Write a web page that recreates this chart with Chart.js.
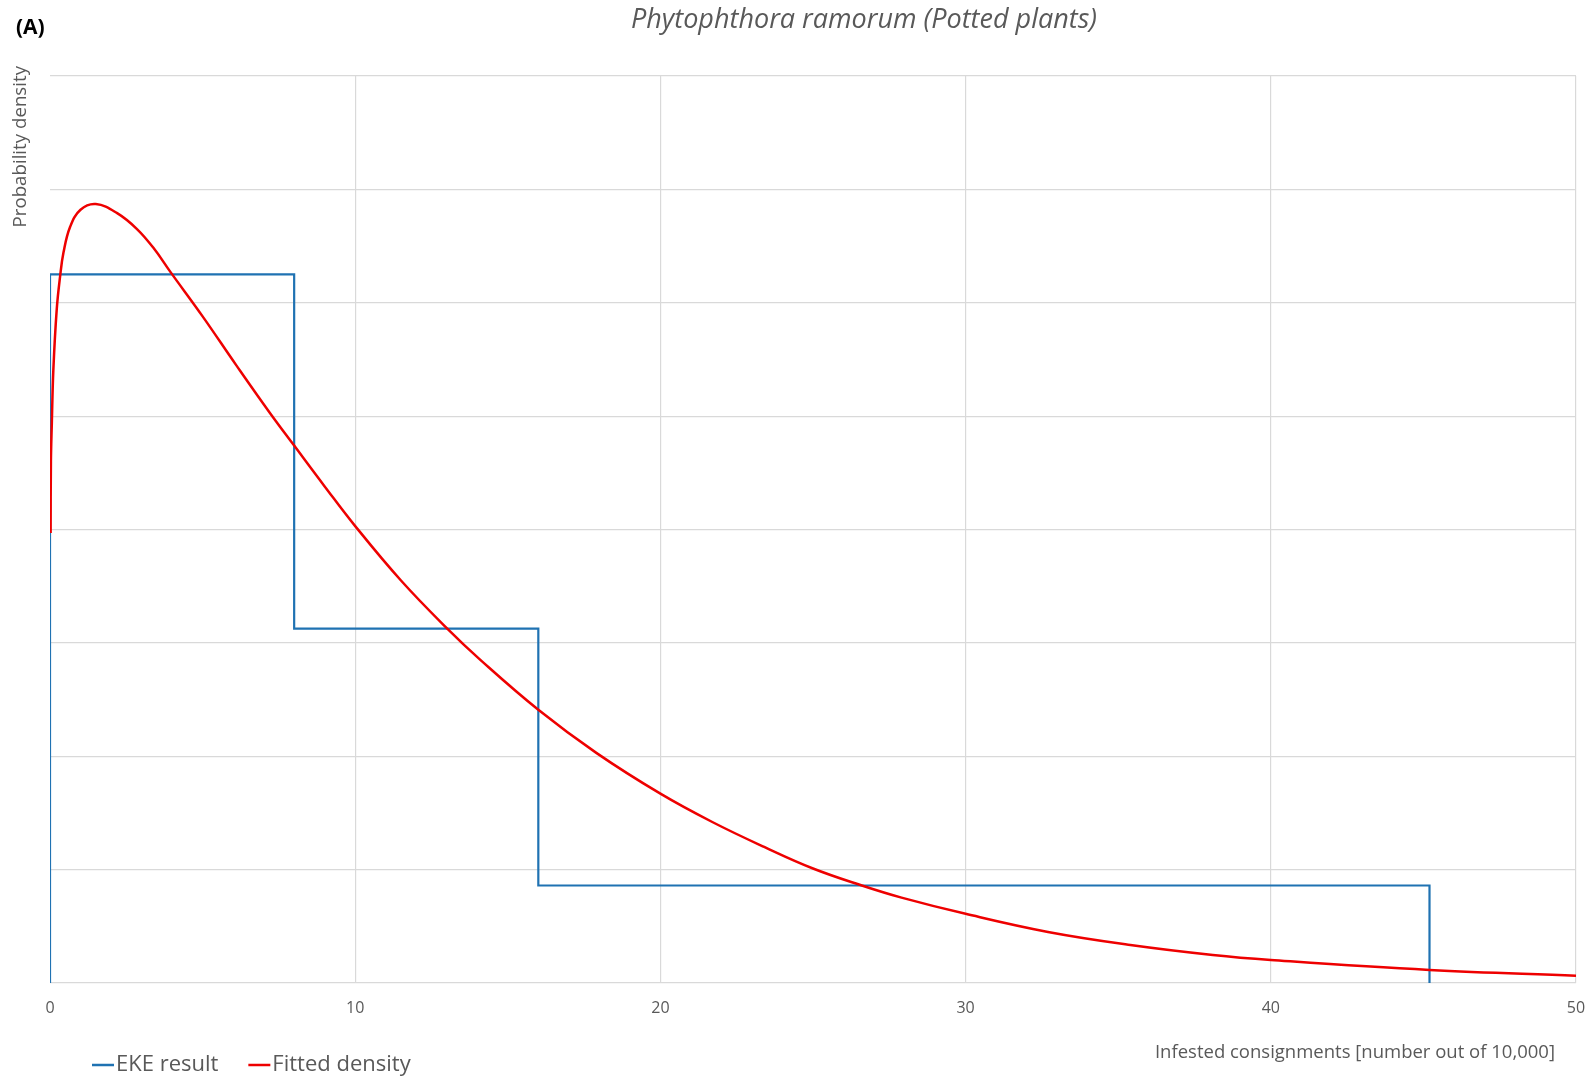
<!DOCTYPE html>
<html>
<head>
<meta charset="utf-8">
<title>Phytophthora ramorum (Potted plants)</title>
<script src="https://cdn.jsdelivr.net/npm/chart.js@4.4.1/dist/chart.umd.min.js"></script>
<style>
  html, body { margin: 0; padding: 0; background: #fff; overflow: hidden; }
  canvas { display: block; }
</style>
</head>
<body>
<canvas id="densityChart" width="1594" height="1080"></canvas>
<script>
// EKE result: bin edges and the density held inside each bin
const binEdges = [0, 8, 16, 45.2];
const binDensity = [0.0625, 0.03125, 0.0086];

// fitted density, sampled along the curve
const fitX = [0.02, 0.03, 0.06, 0.11, 0.22, 0.33, 0.44, 0.66, 1.0, 1.5, 2.2, 2.85, 3.4, 3.95, 5.0, 6.1, 7.2,
  8.0, 9.0, 10, 11.5, 13, 14.1, 16, 17.9, 20, 21.7, 23.4, 25, 26.6, 27.9, 30, 32.7, 35.4, 38.1, 40, 45.2, 50];
const fitY = [0.0397, 0.046, 0.0494, 0.0541, 0.0594, 0.0623, 0.0644, 0.0667, 0.0682, 0.0687, 0.0679, 0.0665,
  0.0648, 0.0627, 0.0588, 0.0545, 0.0503, 0.0474, 0.0438, 0.0403, 0.0355, 0.0313, 0.0285, 0.0241, 0.0203,
  0.0167, 0.0142, 0.012, 0.0101, 0.0086, 0.00753, 0.0061, 0.0045, 0.00335, 0.00247, 0.00203, 0.00115, 0.00065];

const xTicks = [0, 10, 20, 30, 40, 50];
const yMax = 0.08;
const yStep = 0.01;

const titleText = 'Phytophthora ramorum (Potted plants)';
const xTitle = 'Infested consignments [number out of 10,000]';
const yTitle = 'Probability density';

const gray = '#595959';
const gridColor = '#d9d9d9';

// step outline of the EKE bins
const ekePoints = [{ x: binEdges[0], y: 0 }];
binDensity.forEach((d, i) => ekePoints.push({ x: binEdges[i], y: d }));
ekePoints.push({ x: binEdges[binEdges.length - 1], y: 0 });

const fitPoints = fitX.map((x, i) => ({ x, y: fitY[i] }));

Chart.defaults.font.family = '"Open Sans", sans-serif';
Chart.defaults.color = gray;

// panel label, title, axis titles and legend
const panelText = {
  id: 'panelText',
  afterDraw(chart) {
    const { ctx, chartArea: a } = chart;
    ctx.save();
    ctx.textBaseline = 'middle';

    ctx.fillStyle = '#000';
    ctx.font = 'bold 21px "Open Sans"';
    ctx.textAlign = 'left';
    ctx.fillText('(A)', 16, 28);

    ctx.fillStyle = gray;
    ctx.font = 'italic 27px "Open Sans"';
    ctx.textAlign = 'center';
    ctx.fillText(titleText, 864, 20);

    ctx.font = '18.5px "Open Sans"';
    ctx.textAlign = 'right';
    ctx.fillText(xTitle, a.right - 21, 1053);

    ctx.save();
    ctx.font = '18.7px "Open Sans"';
    ctx.translate(21, 66);
    ctx.rotate(-Math.PI / 2);
    ctx.textAlign = 'right';
    ctx.fillText(yTitle, 0, 0);
    ctx.restore();

    // legend
    ctx.font = '22px "Open Sans"';
    ctx.textAlign = 'left';
    let x = 92;
    const y = 1065;
    chart.data.datasets.forEach(ds => {
      ctx.strokeStyle = ds.borderColor;
      ctx.lineWidth = 2.5;
      ctx.beginPath();
      ctx.moveTo(x, y);
      ctx.lineTo(x + 22, y);
      ctx.stroke();
      ctx.fillStyle = gray;
      ctx.fillText(ds.label, x + 24, y);
      x += 24 + ctx.measureText(ds.label).width + 30;
    });
    ctx.restore();
  }
};

new Chart(document.getElementById('densityChart'), {
  type: 'line',
  data: {
    datasets: [{
      label: 'EKE result',
      data: ekePoints,
      borderColor: '#1f72b2',
      borderWidth: 2.2,
      stepped: 'before',
      borderJoinStyle: 'miter',
      pointRadius: 0,
      order: 1
    }, {
      label: 'Fitted density',
      data: fitPoints,
      borderColor: '#ee0000',
      borderWidth: 2.5,
      tension: 0.4,
      pointRadius: 0,
      order: 0
    }]
  },
  options: {
    responsive: false,
    devicePixelRatio: 1,
    animation: false,
    events: [],
    layout: { padding: { top: 76, left: 50, right: 18, bottom: 0 } },
    plugins: {
      legend: { display: false },
      title: { display: false },
      tooltip: { enabled: false }
    },
    scales: {
      x: {
        type: 'linear',
        min: 0,
        max: 50,
        afterBuildTicks: scale => { scale.ticks = xTicks.map(v => ({ value: v })); },
        afterFit: scale => {
          scale.height = 97;
          scale.paddingLeft = 0;
          scale.paddingRight = 0;
        },
        ticks: { padding: 16, color: gray, font: { size: 16 } },
        grid: {
          drawTicks: false,
          color: c => (c.tick && c.tick.value === 0 ? 'rgba(0,0,0,0)' : gridColor),
          lineWidth: 1.2
        },
        border: { display: false }
      },
      y: {
        min: 0,
        max: yMax,
        ticks: { stepSize: yStep, display: false },
        grid: { drawTicks: false, color: gridColor, lineWidth: 1.2 },
        border: { display: false }
      }
    }
  },
  plugins: [panelText]
});
</script>
</body>
</html>
